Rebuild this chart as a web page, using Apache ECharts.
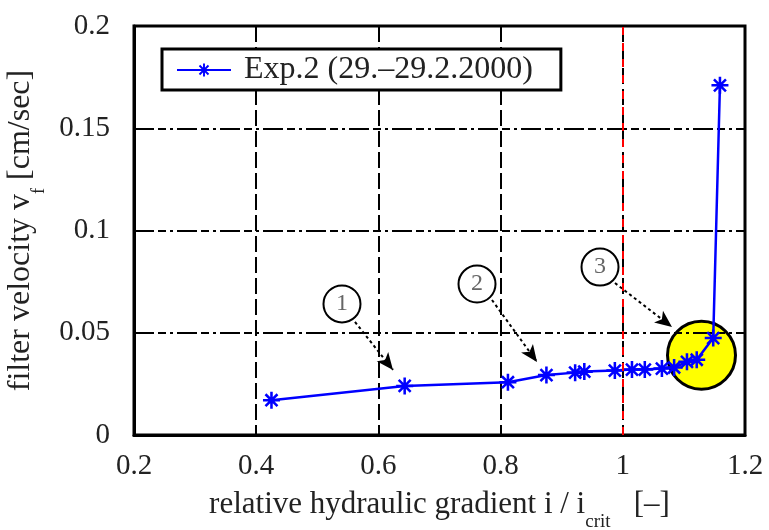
<!DOCTYPE html>
<html>
<head>
<meta charset="utf-8">
<script src="https://cdn.jsdelivr.net/npm/echarts@6/dist/echarts.min.js"></script>
<style>html,body{margin:0;padding:0;background:#fff}#c{width:769px;height:530px}</style>
</head>
<body>
<div id="c"></div>
<script>
// ---- data ----
var seriesName = 'Exp.2 (29.\u201329.2.2000)';
var gradient = [0.425, 0.643, 0.812, 0.875, 0.922, 0.937, 0.987, 1.015, 1.036, 1.064, 1.084, 1.105, 1.121, 1.148, 1.159];
var velocity = [0.017, 0.024, 0.0258, 0.0293, 0.0305, 0.031, 0.0315, 0.032, 0.032, 0.0325, 0.033, 0.0358, 0.0368, 0.0474, 0.171];
var xTicks = [0.2, 0.4, 0.6, 0.8, 1, 1.2];
var yTicks = [0, 0.05, 0.1, 0.15, 0.2];
var critGradient = 1.0;
// annotation: circled labels and arrow start/end (data coords)
var noteLabels = ['1', '2', '3'];
var noteCenters = [[0.5404, 0.0641], [0.7614, 0.0738], [0.9627, 0.0821]];
var arrowStarts = [[0.5617, 0.0553], [0.7859, 0.0660], [0.9872, 0.0743]];
var arrowEnds = [[0.6239, 0.0318], [0.8596, 0.0357], [1.0805, 0.0528]];
var highlight = [[1.1288, 0.039]];

var FONT = 'Liberation Serif';
var TXT = '#222';
var star = 'path://M0,8.5H20V11.5H0Z M8.5,0H11.5V20H8.5Z M4,1.9L18.1,16L16,18.1L1.9,4Z M16,1.9L18.1,4L4,18.1L1.9,16Z';

var lineData = gradient.map(function (g, i) { return [g, velocity[i]]; });

var markLines = arrowStarts.map(function (s, i) {
  return [{ coord: s, symbol: 'none' }, { coord: arrowEnds[i], symbol: 'arrow' }];
});
markLines.push([
  { coord: [critGradient, yTicks[0]], symbol: 'none', lineStyle: { color: '#ff0000', type: [8, 8], width: 2 } },
  { coord: [critGradient, yTicks[yTicks.length - 1]], symbol: 'none' }
]);

var chart = echarts.init(document.getElementById('c'), null, { renderer: 'canvas' });
chart.setOption({
  animation: false,
  backgroundColor: '#fff',
  grid: { left: 134, top: 26, right: 24, bottom: 95, outerBoundsMode: 'none', containLabel: false,
    show: true, borderColor: '#000', borderWidth: 3, backgroundColor: 'transparent' },
  legend: {
    data: [seriesName],
    left: 162, top: 49,
    backgroundColor: '#fff', borderColor: '#000', borderWidth: 3, borderRadius: 0,
    padding: [5, 28, 4, 14],
    itemWidth: 54, itemHeight: 16,
    textStyle: { fontFamily: FONT, fontSize: 32, color: TXT, padding: [0, 0, 0, 8] }
  },
  xAxis: {
    type: 'value',
    min: xTicks[0], max: xTicks[xTicks.length - 1], interval: 0.2,
    axisLine: { lineStyle: { color: '#000', width: 3 } },
    axisTick: { show: false },
    axisLabel: { fontFamily: FONT, fontSize: 29, color: TXT, margin: 17 },
    splitLine: { lineStyle: { color: '#000', width: 2, type: [16, 5] } },
    name: 'relative hydraulic gradient i / i{sub|crit}   [\u2013]',
    nameLocation: 'middle', nameGap: 43,
    nameTextStyle: { fontFamily: FONT, fontSize: 31, color: TXT,
      rich: { sub: { fontFamily: FONT, fontSize: 19, color: TXT, verticalAlign: 'bottom', lineHeight: 54 } } }
  },
  yAxis: {
    type: 'value',
    min: yTicks[0], max: yTicks[yTicks.length - 1], interval: 0.05,
    axisLine: { show: true, lineStyle: { color: '#000', width: 3 } },
    axisTick: { show: false },
    axisLabel: { fontFamily: FONT, fontSize: 29, color: TXT, margin: 24 },
    splitLine: { lineStyle: { color: '#000', width: 2, type: [20, 4, 8, 4, 3, 4] } },
    name: 'filter velocity v{sub|f} [cm/sec]',
    nameLocation: 'middle', nameGap: 75, nameRotate: 90,
    nameTextStyle: { fontFamily: FONT, fontSize: 32, color: TXT,
      rich: { sub: { fontFamily: FONT, fontSize: 18, color: TXT, verticalAlign: 'bottom', lineHeight: 56 } } }
  },
  series: [
    {
      name: 'highlight', type: 'scatter', z: -1, silent: true,
      data: highlight, symbol: 'circle', symbolSize: 68,
      itemStyle: { color: '#ffff00', borderColor: '#000', borderWidth: 3, opacity: 1 }
    },
    {
      name: seriesName, type: 'line', data: lineData,
      symbol: star, symbolSize: 17,
      lineStyle: { color: '#0000ff', width: 2.5 },
      itemStyle: { color: '#0000ff' },
      markLine: {
        silent: true, animation: false,
        symbolSize: [11, 17],
        label: { show: false },
        lineStyle: { color: '#000', type: [3, 3], width: 2 },
        emphasis: { disabled: true },
        data: markLines
      },
      markPoint: {
        silent: true, symbol: 'circle', symbolSize: 37,
        itemStyle: { color: '#fff', borderColor: '#000', borderWidth: 2 },
        label: { show: true, formatter: '{b}', fontFamily: FONT, fontSize: 24, color: '#666' },
        data: noteLabels.map(function (n, i) { return { name: n, coord: noteCenters[i] }; })
      }
    }
  ]
});
</script>
</body>
</html>
